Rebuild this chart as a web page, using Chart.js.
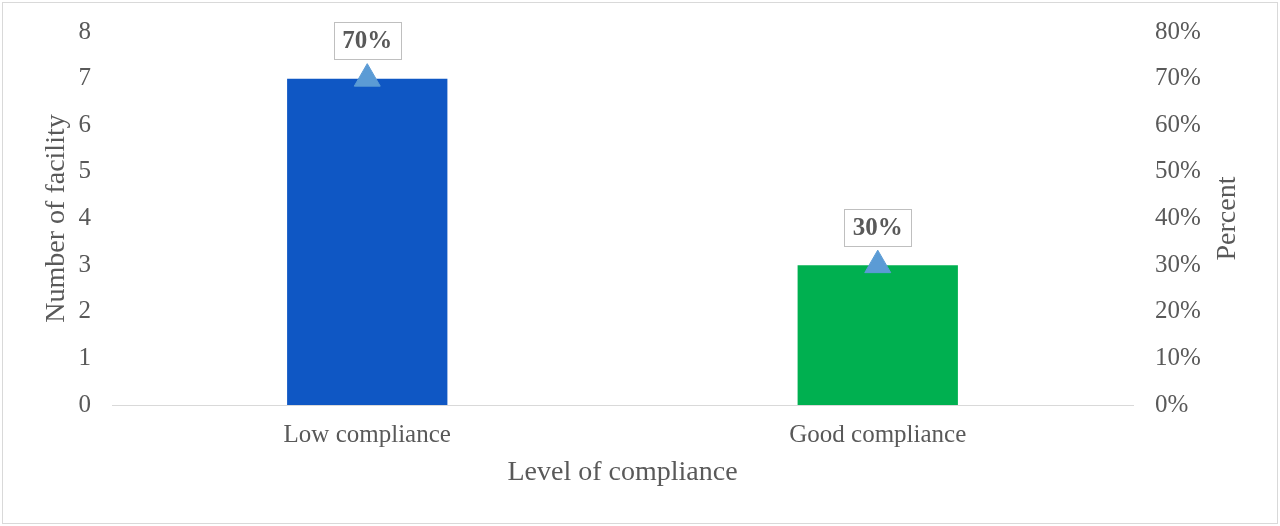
<!DOCTYPE html>
<html>
<head>
<meta charset="utf-8">
<script src="https://cdn.jsdelivr.net/npm/chart.js@4"></script>
<style>
  html, body { margin: 0; padding: 0; background: #fff; }
  #wrap { position: relative; width: 1280px; height: 526px; }
  #frame { position: absolute; left: 2px; top: 2px; width: 1274px; height: 520px; border: 1px solid #d9d9d9; pointer-events: none; }
</style>
</head>
<body>
<div id="wrap">
  <canvas id="chart" width="1280" height="526"></canvas>
  <div id="frame"></div>
</div>
<script>
const categories = ['Low compliance', 'Good compliance'];
const facilityCounts = [7, 3];
const percentValues = [70, 30];
const countAxisMax = 8;
const percentAxisMax = 80;

const textColor = '#595959';
const serif = '"Liberation Serif", "Times New Roman", serif';

// boxed bold percent labels above the triangle markers,
// plus the right axis title which reads bottom-to-top like the left one
const boxLabels = {
    id: 'boxLabels',
    afterDatasetsDraw(chart) {
        const ctx = chart.ctx;
        const meta = chart.getDatasetMeta(1);
        ctx.save();
        ctx.font = 'bold 25px ' + serif;
        ctx.textAlign = 'center';
        ctx.textBaseline = 'middle';
        meta.data.forEach((pt, i) => {
            const text = percentValues[i] + '%';
            const w = ctx.measureText(text).width + 17;
            const h = 37;
            const cx = pt.x;
            const cy = pt.y - 38;
            ctx.fillStyle = '#fff';
            ctx.fillRect(cx - w / 2, cy - h / 2, w, h);
            ctx.strokeStyle = '#bfbfbf';
            ctx.lineWidth = 1;
            ctx.strokeRect(Math.round(cx - w / 2) + 0.5, Math.round(cy - h / 2) + 0.5, Math.round(w), h);
            ctx.fillStyle = textColor;
            ctx.fillText(text, cx, cy + 1);
        });

        const y1 = chart.scales.y1;
        ctx.translate(1228, (y1.top + y1.bottom) / 2);
        ctx.rotate(-Math.PI / 2);
        ctx.font = '28px ' + serif;
        ctx.fillText('Percent', 0, 0);
        ctx.restore();
    }
};

// fixed axis widths, no extra padding around the end labels
function fitSide(width) {
    return s => {
        s.width = width;
        s.paddingTop = 0;
        s.paddingBottom = 0;
    };
}

new Chart(document.getElementById('chart').getContext('2d'), {
    type: 'bar',
    data: {
        labels: categories,
        datasets: [{
            label: 'Number of facility',
            data: facilityCounts,
            backgroundColor: ['#0f57c4', '#00b050'],
            categoryPercentage: 1,
            barPercentage: 0.314,
            yAxisID: 'y',
            order: 2
        }, {
            type: 'line',
            label: 'Percent',
            data: percentValues,
            showLine: false,
            pointStyle: 'triangle',
            pointRadius: 15,
            pointBackgroundColor: '#5b9bd5',
            pointBorderColor: '#5b9bd5',
            yAxisID: 'y1',
            order: 1
        }]
    },
    options: {
        responsive: false,
        animation: false,
        layout: { autoPadding: false, padding: { top: 32, left: 0, right: 0, bottom: 0 } },
        scales: {
            x: {
                afterFit: s => { s.height = 121; },
                grid: { display: false, drawTicks: false },
                border: { color: '#d9d9d9', width: 1 },
                ticks: { color: textColor, font: { family: serif, size: 25 }, padding: 15 },
                title: {
                    display: true,
                    text: 'Level of compliance',
                    color: textColor,
                    font: { family: serif, size: 28 },
                    padding: { top: 0, bottom: 37 }
                }
            },
            y: {
                position: 'left',
                min: 0,
                max: countAxisMax,
                afterFit: fitSide(112),
                grid: { display: false, drawTicks: false },
                border: { display: false },
                ticks: { stepSize: 1, color: textColor, font: { family: serif, size: 25 }, padding: 21 },
                title: {
                    display: true,
                    text: 'Number of facility',
                    color: textColor,
                    font: { family: serif, size: 28 },
                    padding: { top: 40, bottom: 0 }
                }
            },
            y1: {
                position: 'right',
                min: 0,
                max: percentAxisMax,
                afterFit: fitSide(147),
                grid: { display: false, drawTicks: false },
                border: { display: false },
                ticks: {
                    stepSize: 10,
                    color: textColor,
                    font: { family: serif, size: 25 },
                    padding: 22,
                    callback: v => v + '%'
                },
                title: { display: false }
            }
        },
        plugins: {
            legend: { display: false },
            tooltip: { enabled: false }
        }
    },
    plugins: [boxLabels]
});
</script>
</body>
</html>
